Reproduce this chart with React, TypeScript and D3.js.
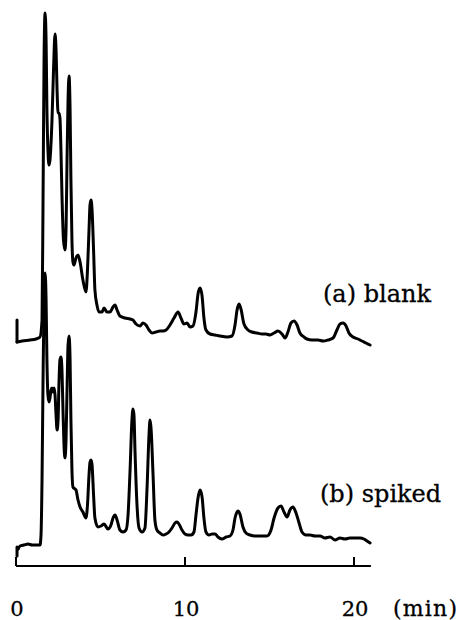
import React from "react";
import * as d3 from "d3";

// Retention time (min) and detector response (arbitrary units)
const blankTime = [0.06, 0.36, 0.83, 1.18, 1.42, 1.54, 1.6, 1.66, 1.72, 1.78, 1.83, 1.89, 1.95, 2.01, 2.13, 2.22, 2.31, 2.37, 2.43, 2.49, 2.54, 2.6, 2.66, 2.72, 2.81, 2.9, 2.96, 3.02, 3.08, 3.14, 3.2, 3.25, 3.31, 3.37, 3.43, 3.55, 3.67, 3.79, 3.96, 4.14, 4.23, 4.32, 4.38, 4.44, 4.5, 4.59, 4.67, 4.79, 4.91, 5.09, 5.21, 5.38, 5.56, 5.74, 5.86, 5.98, 6.15, 6.45, 6.75, 6.92, 7.1, 7.34, 7.51, 7.69, 7.87, 8.05, 8.28, 8.52, 8.7, 8.88, 9.11, 9.35, 9.59, 9.76, 9.94, 10.12, 10.3, 10.47, 10.65, 10.77, 10.89, 11.01, 11.12, 11.24, 11.48, 11.78, 12.07, 12.49, 12.78, 12.96, 13.08, 13.2, 13.31, 13.49, 13.73, 13.96, 14.26, 14.56, 14.79, 15.03, 15.27, 15.5, 15.74, 15.92, 16.09, 16.27, 16.45, 16.63, 16.8, 17.04, 17.22, 17.51, 17.87, 18.17, 18.46, 18.76, 18.99, 19.17, 19.35, 19.53, 19.7, 19.94, 20.24, 20.47, 20.71, 20.95];
const blankSignal = [8, 9, 10, 11, 13, 30, 150, 290, 337, 310, 240, 200, 185, 190, 230, 280, 316, 300, 260, 237, 237, 232, 200, 155, 110, 100, 120, 190, 250, 274, 240, 170, 110, 88, 85, 92, 95, 88, 70, 58, 80, 120, 145, 150, 140, 100, 60, 45, 38, 38, 42, 38, 38, 43, 45, 40, 34, 32, 31, 30, 26, 24, 27, 25, 20, 17, 18, 19, 19, 20, 25, 32, 38, 32, 26, 27, 23, 24, 38, 56, 62, 54, 32, 20, 16, 15, 14, 13, 14, 25, 40, 46, 41, 26, 20, 18, 17, 16, 16, 15, 17, 19, 16, 12, 18, 27, 29, 25, 17, 13, 11, 10, 10, 9, 10, 12, 20, 26, 27, 24, 17, 13, 11, 9, 7, 5];
const blankStartMark = [30, 8];

const spikedTime = [0.12, 0.24, 0.47, 0.71, 0.95, 1.18, 1.42, 1.48, 1.54, 1.6, 1.66, 1.72, 1.78, 1.83, 1.89, 1.95, 2.01, 2.07, 2.13, 2.19, 2.25, 2.31, 2.37, 2.43, 2.49, 2.54, 2.6, 2.66, 2.72, 2.78, 2.84, 2.9, 2.96, 3.02, 3.08, 3.14, 3.2, 3.25, 3.31, 3.37, 3.49, 3.55, 3.67, 3.79, 3.96, 4.14, 4.23, 4.32, 4.38, 4.44, 4.5, 4.59, 4.67, 4.85, 5.03, 5.21, 5.44, 5.62, 5.74, 5.86, 5.98, 6.15, 6.33, 6.51, 6.63, 6.75, 6.86, 6.92, 6.98, 7.04, 7.16, 7.28, 7.46, 7.63, 7.75, 7.87, 7.93, 7.99, 8.11, 8.22, 8.34, 8.52, 8.7, 8.88, 9.05, 9.23, 9.41, 9.53, 9.64, 9.82, 10.0, 10.18, 10.36, 10.53, 10.65, 10.77, 10.89, 11.01, 11.12, 11.24, 11.42, 11.6, 11.78, 11.95, 12.19, 12.43, 12.66, 12.84, 12.96, 13.14, 13.25, 13.43, 13.61, 13.85, 14.14, 14.44, 14.85, 15.09, 15.27, 15.5, 15.68, 15.86, 16.04, 16.21, 16.39, 16.57, 16.75, 16.92, 17.16, 17.4, 17.69, 17.99, 18.28, 18.58, 18.88, 19.17, 19.47, 19.76, 20.06, 20.36, 20.59, 20.77, 20.95];
const spikedSignal = [3, 6, 7, 8, 7, 7, 7, 17, 72, 172, 252, 279, 252, 192, 157, 150, 154, 162, 164, 160, 164, 157, 137, 122, 132, 167, 192, 195, 182, 142, 107, 94, 112, 162, 207, 216, 192, 132, 82, 65, 63, 62, 52, 45, 40, 34, 47, 77, 90, 92, 87, 57, 34, 25, 26, 28, 23, 27, 34, 37, 32, 22, 20, 22, 37, 82, 132, 143, 137, 102, 47, 24, 20, 24, 62, 117, 132, 124, 77, 32, 22, 19, 17, 18, 20, 24, 29, 30, 28, 22, 18, 17, 17, 20, 37, 54, 62, 55, 34, 20, 17, 18, 18, 15, 13, 15, 16, 22, 34, 41, 38, 25, 19, 17, 16, 16, 16, 22, 34, 44, 46, 40, 35, 42, 45, 39, 29, 20, 17, 17, 16, 16, 14, 15, 12, 14, 13, 14, 14, 14, 13, 11, 9];
const spikedStartMark = [-4, 5];
const startMarkTime = 0.06;

const axisTicks = [0, 10, 20];
const axisUnit = "(min)";
const traceLabels = ["(a) blank", "(b) spiked"];

export default function App() {
  const width = 460;
  const height = 620;
  const x = d3.scaleLinear().domain([0, 21]).range([16, 370.9]);
  const y = d3.scaleLinear().domain([0, 340]).range([0, -340]);

  const line = d3
    .line<[number, number]>()
    .x((d) => x(d[0]))
    .y((d) => y(d[1]))
    .curve(d3.curveMonotoneX);
  const straight = d3
    .line<[number, number]>()
    .x((d) => x(d[0]))
    .y((d) => y(d[1]));

  const blankPts: [number, number][] = blankTime.map((t, i) => [t, blankSignal[i]]);
  const spikedPts: [number, number][] = spikedTime.map((t, i) => [t, spikedSignal[i]]);
  const blankMark: [number, number][] = blankStartMark.map((s) => [startMarkTime, s]);
  const spikedMark: [number, number][] = [
    [startMarkTime, spikedStartMark[0]],
    [startMarkTime, spikedStartMark[1]],
    [spikedTime[0], spikedSignal[0]],
  ];

  const axisY = 566;
  const font = "'DejaVu Serif', 'Liberation Serif', serif";
  const traceStyle = {
    fill: "none",
    stroke: "#000",
    strokeWidth: 3,
    strokeLinejoin: "round" as const,
    strokeLinecap: "round" as const,
  };

  return (
    <svg
      width={width}
      height={height}
      style={{ position: "absolute", left: 0, top: 0, background: "#fff" }}
    >
      <g transform="translate(0,350)">
        <path d={straight(blankMark) || ""} {...traceStyle} />
        <path d={line(blankPts) || ""} {...traceStyle} />
      </g>
      <g transform="translate(0,552)">
        <path d={straight(spikedMark) || ""} {...traceStyle} />
        <path d={line(spikedPts) || ""} {...traceStyle} />
      </g>

      <text x={323} y={302} fontFamily={font} fontSize={24} fill="#000" stroke="#000" strokeWidth={0.3}>
        {traceLabels[0]}
      </text>
      <text x={320} y={502} fontFamily={font} fontSize={24} fill="#000" stroke="#000" strokeWidth={0.3}>
        {traceLabels[1]}
      </text>

      <line x1={x(0)} x2={x(21)} y1={axisY} y2={axisY} stroke="#000" strokeWidth={2} />
      {axisTicks.map((t) => (
        <g key={t}>
          <line x1={x(t)} x2={x(t)} y1={axisY} y2={axisY - 9} stroke="#000" strokeWidth={2} />
          <text
            x={x(t) + 1}
            y={616}
            textAnchor="middle"
            fontFamily={font}
            fontSize={21}
            fill="#000"
            stroke="#000"
            strokeWidth={0.3}
          >
            {t}
          </text>
        </g>
      ))}
      <text x={393} y={616} fontFamily={font} fontSize={22} fill="#000" stroke="#000" strokeWidth={0.3} textLength={64} lengthAdjust="spacing">
        {axisUnit}
      </text>
    </svg>
  );
}
